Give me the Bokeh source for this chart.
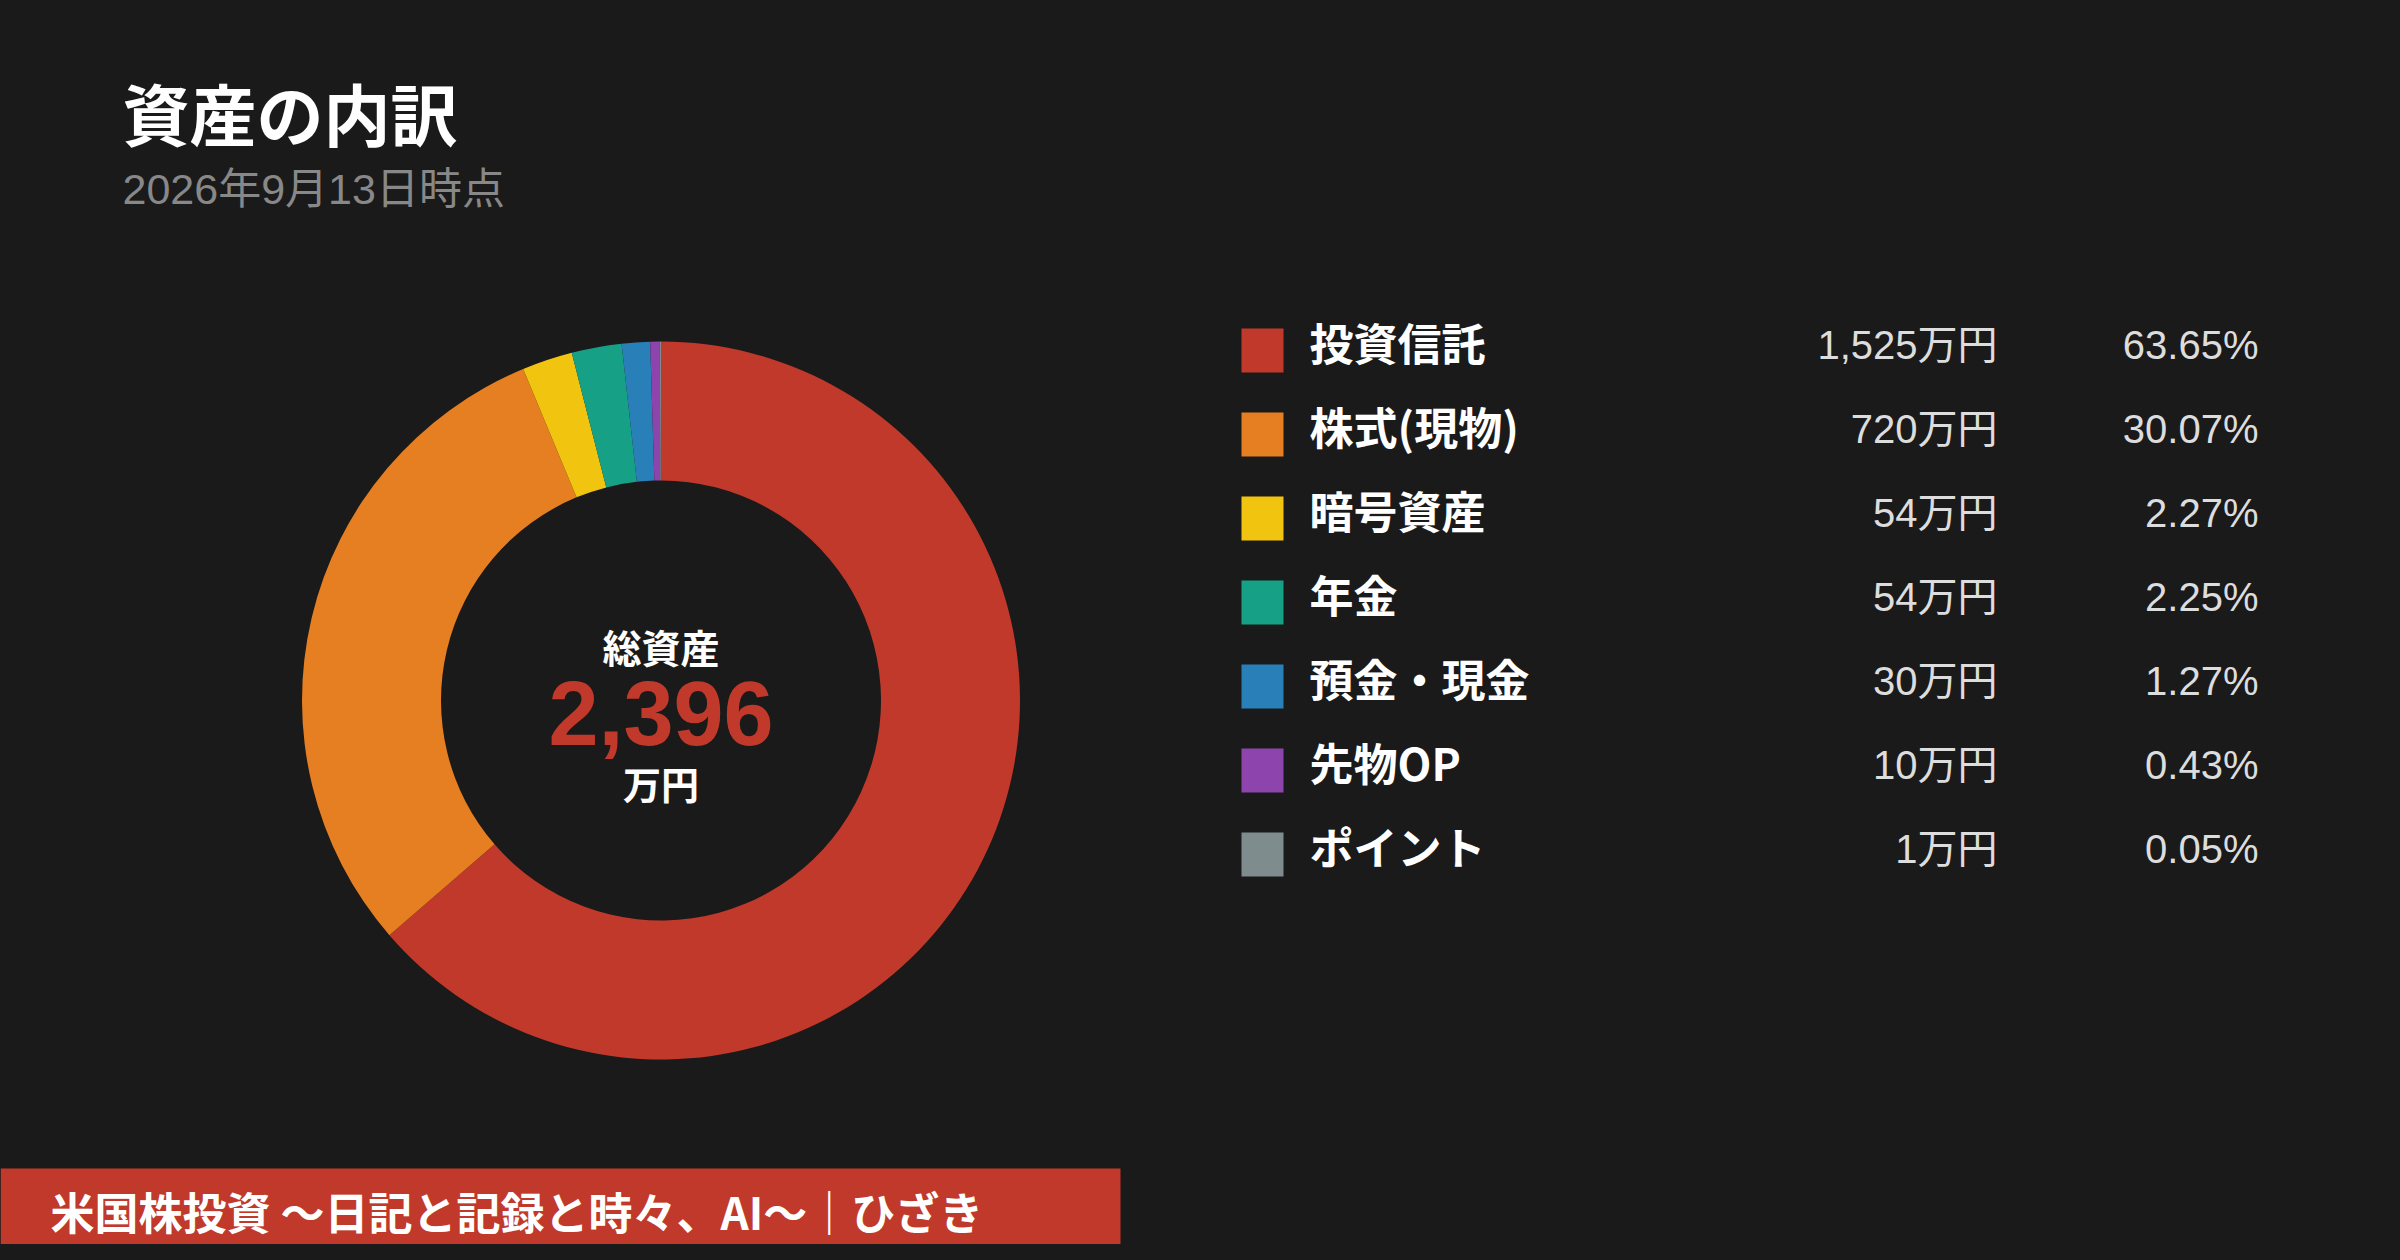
import numpy as np
from bokeh.plotting import figure
from bokeh.models import ColumnDataSource, Range1d
from bokeh.core.properties import value
from bokeh.embed import file_html
from bokeh.resources import INLINE

# ---------------- data ----------------
title = "資産の内訳"
subtitle = "2026年9月13日時点"
categories = ["投資信託", "株式(現物)", "暗号資産", "年金", "預金・現金", "先物OP", "ポイント"]
amounts_man = [1525, 720, 54, 54, 30, 10, 1]
percents = [63.65, 30.07, 2.27, 2.25, 1.27, 0.43, 0.05]
colors = ["#c0392b", "#e67e22", "#f1c40f", "#16a085", "#2980b9", "#8e44ad", "#7f8c8d"]
total_man = 2396
center_label = "総資産"
unit = "万円"
footer = "米国株投資 〜日記と記録と時々、AI〜｜ひざき"

# ---------------- layout ----------------
BG = "#1a1a1a"
W, H = 2384, 1244
JP = "Noto Sans CJK JP"
NUM = "Liberation Sans, Noto Sans CJK JP"


def sy(y):
    return 1260 - y


p = figure(width=W, height=H, output_backend="svg", toolbar_location=None,
           x_range=Range1d(0, W), y_range=Range1d(1260 - H, 1260),
           x_axis_type=None, y_axis_type=None, min_border=0)
p.background_fill_color = BG
p.border_fill_color = BG
p.outline_line_color = None
p.grid.visible = False

# title / subtitle
p.text(x=[122], y=[sy(111)], text=[title], text_font=value(JP), text_font_style="bold",
       text_font_size="67px", text_color="#ffffff", text_baseline="middle", text_align="left")
p.text(x=[122], y=[sy(188)], text=[subtitle], text_font=value(NUM),
       text_font_size="43px", text_color="#888888", text_baseline="middle", text_align="left")

# donut
frac = np.array(percents) / np.sum(percents)
cum = np.concatenate([[0.0], np.cumsum(frac)])
start = np.pi / 2 - 2 * np.pi * cum[:-1]
end = np.pi / 2 - 2 * np.pi * cum[1:]
cx, cy = 660.5, 700
wsrc = ColumnDataSource(dict(start=start, end=end, color=colors))
p.annular_wedge(x=cx, y=sy(cy), inner_radius=220, outer_radius=359,
                start_angle="start", end_angle="end", direction="clock",
                fill_color="color", line_color=None, source=wsrc)

# center text
p.text(x=[cx], y=[sy(645)], text=[center_label], text_font=value(JP), text_font_style="bold",
       text_font_size="39px", text_color="#ffffff", text_baseline="middle", text_align="center")
p.text(x=[cx], y=[sy(713)], text=[f"{total_man:,}"], text_font=value(NUM), text_font_style="bold",
       text_font_size="90px", text_color="#c0392b", text_baseline="middle", text_align="center")
p.text(x=[cx], y=[sy(782)], text=[unit], text_font=value(JP), text_font_style="bold",
       text_font_size="38px", text_color="#ffffff", text_baseline="middle", text_align="center")

# legend table
n = len(categories)
row_y = [350 + 84 * i for i in range(n)]
lsrc = ColumnDataSource(dict(
    sq_x=[1262] * n,
    y=[sy(v) for v in row_y],
    ly=[sy(v - 9) for v in row_y],
    ty=[sy(v - 6) for v in row_y],
    color=colors,
    label=categories,
    amount=[f"{a:,}{unit}" for a in amounts_man],
    pct=[f"{v:.2f}%" for v in percents],
    lx=[1309] * n, ax=[1997] * n, px=[2258] * n,
))
p.rect(x="sq_x", y="y", width=42, height=44, fill_color="color", line_color=None, source=lsrc)
p.text(x="lx", y="ly", text="label", text_font=value(JP), text_font_style="bold",
       text_font_size="44px", text_color="#ffffff", text_baseline="middle", text_align="left",
       source=lsrc)
p.text(x="ax", y="ty", text="amount", text_font=value(NUM),
       text_font_size="40px", text_color="#dddddd", text_baseline="middle", text_align="right",
       source=lsrc)
p.text(x="px", y="ty", text="pct", text_font=value(NUM),
       text_font_size="40px", text_color="#dddddd", text_baseline="middle", text_align="right",
       source=lsrc)

# footer band
p.quad(left=[0], right=[1120], bottom=[sy(1262)], top=[sy(1168)], fill_color="#c0392b", line_color=None)
p.text(x=[50], y=[sy(1210)], text=[footer], text_font=value(JP), text_font_style="bold",
       text_font_size="44px", text_color="#ffffff", text_baseline="middle", text_align="left")

html = file_html(p, INLINE)
html = html.replace("</head>", f"<style>html,body{{background:{BG};}}</style></head>", 1)
open("out.html", "w").write(html)
